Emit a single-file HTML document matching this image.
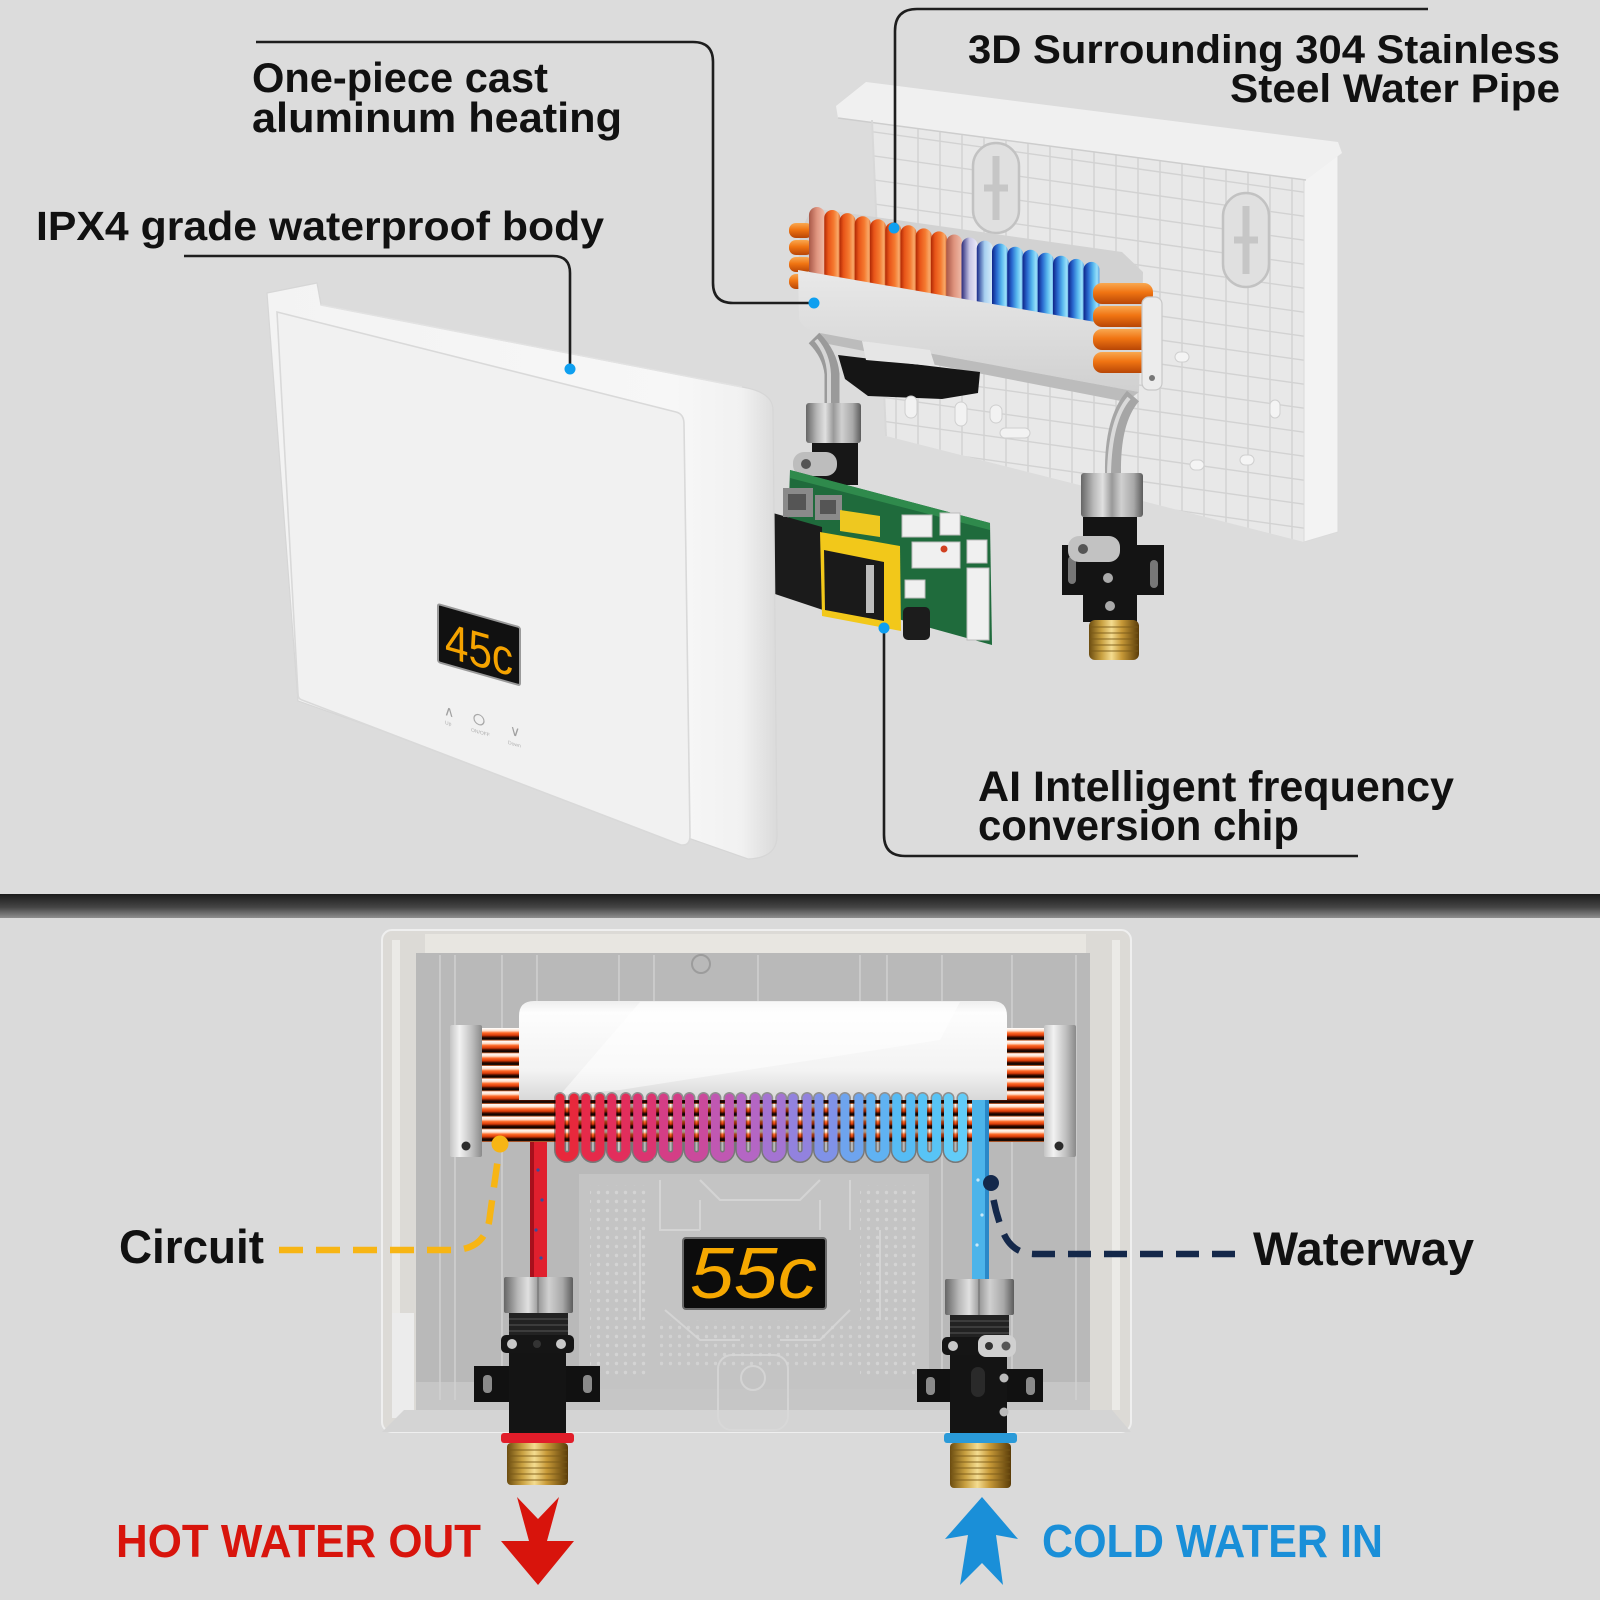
<!DOCTYPE html>
<html><head><meta charset="utf-8"><title>Water heater features</title>
<style>
html,body{margin:0;padding:0;width:1600px;height:1600px;overflow:hidden;background:#dcdcdc}
svg{display:block}
.t{font-family:"Liberation Sans",sans-serif;font-weight:bold}
</style></head><body>
<svg xmlns="http://www.w3.org/2000/svg" width="1600" height="1600" viewBox="0 0 1600 1600">
<defs>
 <linearGradient id="band" x1="0" y1="0" x2="0" y2="1">
  <stop offset="0" stop-color="#1c1c1c"/><stop offset="0.55" stop-color="#454545"/><stop offset="1" stop-color="#8e8e8e"/>
 </linearGradient>
 <linearGradient id="ps" x1="0" y1="0" x2="0" y2="1">
  <stop offset="0" stop-color="#ffffff"/><stop offset="0.22" stop-color="#ffe0cc"/>
  <stop offset="0.38" stop-color="#ff6a28"/><stop offset="0.58" stop-color="#d83a08"/>
  <stop offset="0.72" stop-color="#3a0c00"/><stop offset="0.88" stop-color="#000000"/>
  <stop offset="1" stop-color="#ff8040"/>
 </linearGradient>
 <pattern id="pipes" patternUnits="userSpaceOnUse" x="0" y="1028" width="10" height="12.67">
  <rect width="10" height="12.67" fill="url(#ps)"/>
 </pattern>
 <linearGradient id="cov" x1="0" y1="0" x2="0" y2="1">
  <stop offset="0" stop-color="#eeeeee"/><stop offset="0.12" stop-color="#fdfdfd"/>
  <stop offset="0.7" stop-color="#f3f3f3"/><stop offset="1" stop-color="#d8d8d8"/>
 </linearGradient>
 <linearGradient id="brk" x1="0" y1="0" x2="1" y2="0">
  <stop offset="0" stop-color="#c4c4c4"/><stop offset="0.3" stop-color="#f2f2f2"/>
  <stop offset="0.7" stop-color="#bdbdbd"/><stop offset="1" stop-color="#8a8a8a"/>
 </linearGradient>
 <linearGradient id="nutH" x1="0" y1="0" x2="1" y2="0">
  <stop offset="0" stop-color="#666"/><stop offset="0.2" stop-color="#b8b8b8"/>
  <stop offset="0.35" stop-color="#e0e0e0"/><stop offset="0.5" stop-color="#999"/>
  <stop offset="0.65" stop-color="#d0d0d0"/><stop offset="0.85" stop-color="#a8a8a8"/>
  <stop offset="1" stop-color="#5c5c5c"/>
 </linearGradient>
 <linearGradient id="brass" x1="0" y1="0" x2="1" y2="0">
  <stop offset="0" stop-color="#6b4c10"/><stop offset="0.25" stop-color="#c8a040"/>
  <stop offset="0.45" stop-color="#f4dc90"/><stop offset="0.65" stop-color="#c89a38"/>
  <stop offset="1" stop-color="#5a3c08"/>
 </linearGradient>
 <linearGradient id="fo" x1="0" y1="0" x2="1" y2="0">
  <stop offset="0" stop-color="#b02a06"/><stop offset="0.25" stop-color="#e85418"/>
  <stop offset="0.6" stop-color="#f57a30"/><stop offset="0.85" stop-color="#f8a868"/>
  <stop offset="1" stop-color="#e06a30"/>
 </linearGradient>
 <linearGradient id="fb" x1="0" y1="0" x2="1" y2="0">
  <stop offset="0" stop-color="#0e2488"/><stop offset="0.3" stop-color="#2a6ad0"/>
  <stop offset="0.6" stop-color="#58b8ee"/><stop offset="0.85" stop-color="#9ae0fa"/>
  <stop offset="1" stop-color="#5aa0e0"/>
 </linearGradient>
 <linearGradient id="fp" x1="0" y1="0" x2="1" y2="0">
  <stop offset="0" stop-color="#a85848"/><stop offset="0.5" stop-color="#e0957f"/><stop offset="1" stop-color="#f0bcaa"/>
 </linearGradient>
 <linearGradient id="fl" x1="0" y1="0" x2="1" y2="0">
  <stop offset="0" stop-color="#2a2a7a"/><stop offset="0.5" stop-color="#c8c6e6"/><stop offset="1" stop-color="#eceaf8"/>
 </linearGradient>
 <linearGradient id="fc" x1="0" y1="0" x2="1" y2="0">
  <stop offset="0" stop-color="#1a2a8a"/><stop offset="0.5" stop-color="#a8d0f0"/><stop offset="1" stop-color="#d8ecfa"/>
 </linearGradient>
 <linearGradient id="tube" x1="0" y1="0" x2="0" y2="1">
  <stop offset="0" stop-color="#f9a850"/><stop offset="0.45" stop-color="#f07412"/><stop offset="1" stop-color="#b84606"/>
 </linearGradient>
 <linearGradient id="bar" x1="0" y1="0" x2="0" y2="1">
  <stop offset="0" stop-color="#e9e9e9"/><stop offset="1" stop-color="#d0d0d0"/>
 </linearGradient>
 <linearGradient id="panelG" x1="0" y1="0" x2="1" y2="0">
  <stop offset="0" stop-color="#f3f3f3"/><stop offset="0.8" stop-color="#f7f7f7"/>
  <stop offset="0.93" stop-color="#f1f1f1"/><stop offset="1" stop-color="#dadada"/>
 </linearGradient>
 <pattern id="dots" patternUnits="userSpaceOnUse" width="9" height="9">
  <circle cx="4.5" cy="4.5" r="1.7" fill="#d8d8d8"/>
 </pattern>
 <clipPath id="plateClip"><polygon points="872,118 1304,178 1304,542 886,436"/></clipPath>
</defs>

<!-- backgrounds -->
<rect width="1600" height="1600" fill="#dcdcdc"/>
<rect y="918" width="1600" height="682" fill="#dadada"/>
<rect y="894" width="1600" height="24" fill="url(#band)"/>

<!-- ================= TOP: BACK PLATE ================= -->
<polygon points="872,118 1304,178 1304,542 886,436" fill="#e8e8e8"/>
<g clip-path="url(#plateClip)" stroke="#d2d2d2" stroke-width="1.4">
 <line x1="896" y1="100" x2="896" y2="560"/><line x1="918" y1="100" x2="918" y2="560"/>
 <line x1="940" y1="100" x2="940" y2="560"/><line x1="962" y1="100" x2="962" y2="560"/>
 <line x1="984" y1="100" x2="984" y2="560"/><line x1="1006" y1="100" x2="1006" y2="560"/>
 <line x1="1028" y1="100" x2="1028" y2="560"/><line x1="1050" y1="100" x2="1050" y2="560"/>
 <line x1="1072" y1="100" x2="1072" y2="560"/><line x1="1094" y1="100" x2="1094" y2="560"/>
 <line x1="1116" y1="100" x2="1116" y2="560"/><line x1="1138" y1="100" x2="1138" y2="560"/>
 <line x1="1160" y1="100" x2="1160" y2="560"/><line x1="1182" y1="100" x2="1182" y2="560"/>
 <line x1="1204" y1="100" x2="1204" y2="560"/><line x1="1226" y1="100" x2="1226" y2="560"/>
 <line x1="1248" y1="100" x2="1248" y2="560"/><line x1="1270" y1="100" x2="1270" y2="560"/>
 <line x1="1292" y1="100" x2="1292" y2="560"/>
 <line x1="860" y1="130" x2="1310" y2="193"/><line x1="860" y1="154" x2="1310" y2="217"/>
 <line x1="860" y1="178" x2="1310" y2="241"/><line x1="860" y1="202" x2="1310" y2="265"/>
 <line x1="860" y1="226" x2="1310" y2="289"/><line x1="860" y1="250" x2="1310" y2="313"/>
 <line x1="860" y1="274" x2="1310" y2="337"/><line x1="860" y1="298" x2="1310" y2="361"/>
 <line x1="860" y1="322" x2="1310" y2="385"/><line x1="860" y1="346" x2="1310" y2="409"/>
 <line x1="860" y1="370" x2="1310" y2="433"/><line x1="860" y1="394" x2="1310" y2="457"/>
 <line x1="860" y1="418" x2="1310" y2="481"/><line x1="860" y1="442" x2="1310" y2="505"/>
 <line x1="860" y1="466" x2="1310" y2="529"/>
</g>
<rect x="973" y="143" width="46" height="90" rx="23" fill="#e0e0e0" stroke="#c2c2c2" stroke-width="2.5"/>
<path d="M996,156 L996,220 M984,188 L1008,188" stroke="#c6c6c6" stroke-width="7"/>
<rect x="1223" y="193" width="46" height="94" rx="23" fill="#e0e0e0" stroke="#c2c2c2" stroke-width="2.5"/>
<path d="M1246,206 L1246,274 M1234,240 L1258,240" stroke="#c6c6c6" stroke-width="7"/>
<g fill="#f4f4f4" stroke="#cfcfcf" stroke-width="1">
 <rect x="1175" y="352" width="14" height="10" rx="5"/><rect x="1240" y="455" width="14" height="10" rx="5"/>
 <rect x="1190" y="460" width="14" height="10" rx="5"/><rect x="1270" y="400" width="10" height="18" rx="5"/>
</g>
<polygon points="1304,178 1338,152 1338,532 1304,542" fill="#f3f3f3" stroke="#dadada" stroke-width="1"/>
<polygon points="836,106 866,82 1338,142 1342,153 1306,180 838,118" fill="#f0f0f0"/>
<line x1="838" y1="118" x2="1306" y2="180" stroke="#cdcdcd" stroke-width="1.5"/>
<line x1="872" y1="120" x2="886" y2="436" stroke="#d8d8d8" stroke-width="2"/>

<!-- ================= TOP: HEATER ================= -->
<polygon points="812,208 1122,252 1143,272 1142,332 798,270 800,232" fill="#d2d2d2"/>
<!-- left orange stubs -->
<g fill="url(#tube)">
 <rect x="789" y="223" width="24" height="15" rx="7"/><rect x="789" y="240" width="24" height="15" rx="7"/>
 <rect x="789" y="257" width="24" height="15" rx="7"/><rect x="789" y="274" width="24" height="15" rx="7"/>
</g>
<!-- fins -->
<g>
 <rect x="809" y="207" width="16" height="80" rx="8" fill="url(#fp)"/>
 <rect x="824.25" y="210" width="16" height="80" rx="8" fill="url(#fo)"/>
 <rect x="839.5" y="213.1" width="16" height="80" rx="8" fill="url(#fo)"/>
 <rect x="854.75" y="216.2" width="16" height="80" rx="8" fill="url(#fo)"/>
 <rect x="870" y="219.2" width="16" height="80" rx="8" fill="url(#fo)"/>
 <rect x="885.25" y="222.3" width="16" height="80" rx="8" fill="url(#fo)"/>
 <rect x="900.5" y="225.3" width="16" height="80" rx="8" fill="url(#fo)"/>
 <rect x="915.75" y="228.4" width="16" height="80" rx="8" fill="url(#fo)"/>
 <rect x="931" y="231.4" width="16" height="80" rx="8" fill="url(#fo)"/>
 <rect x="946.25" y="234.5" width="16" height="80" rx="8" fill="url(#fp)"/>
 <rect x="961.5" y="237.5" width="16" height="80" rx="8" fill="url(#fl)"/>
 <rect x="976.75" y="240.6" width="16" height="80" rx="8" fill="url(#fc)"/>
 <rect x="992" y="243.6" width="16" height="80" rx="8" fill="url(#fb)"/>
 <rect x="1007.25" y="246.7" width="16" height="80" rx="8" fill="url(#fb)"/>
 <rect x="1022.5" y="249.7" width="16" height="80" rx="8" fill="url(#fb)"/>
 <rect x="1037.75" y="252.8" width="16" height="80" rx="8" fill="url(#fb)"/>
 <rect x="1053" y="255.8" width="16" height="80" rx="8" fill="url(#fb)"/>
 <rect x="1068.25" y="258.9" width="16" height="80" rx="8" fill="url(#fb)"/>
 <rect x="1083.5" y="261.9" width="16" height="80" rx="8" fill="url(#fb)"/>
</g>
<!-- bar front -->
<path d="M798,270 L1141,330 L1139,392 L820,333 Q801,329 799,318 Z" fill="url(#bar)"/>
<polygon points="820,333 1139,392 1126,402 823,343" fill="#bcbcbc"/>
<!-- right tubes -->
<g>
 <rect x="1093" y="283" width="60" height="21" rx="9" fill="url(#tube)"/>
 <rect x="1093" y="306" width="60" height="21" rx="9" fill="url(#tube)"/>
 <rect x="1093" y="329" width="60" height="21" rx="9" fill="url(#tube)"/>
 <rect x="1093" y="352" width="60" height="21" rx="9" fill="url(#tube)"/>
</g>
<rect x="1142" y="297" width="20" height="93" rx="7" fill="#ececec" stroke="#c8c8c8" stroke-width="1.2"/>
<circle cx="1152" cy="378" r="3" fill="#777"/>
<!-- relay -->
<polygon points="838,355 980,372 978,393 942,399 868,396 845,379" fill="#151515"/>
<polygon points="862,341 930,350 935,366 866,360" fill="#e6e6e6"/>
<g fill="#f2f2f2" stroke="#cfcfcf" stroke-width="1">
 <rect x="905" y="396" width="12" height="22" rx="6"/><rect x="955" y="402" width="12" height="24" rx="6"/>
 <rect x="990" y="405" width="12" height="18" rx="6"/><rect x="1000" y="428" width="30" height="10" rx="5"/>
</g>
<!-- left steel pipe, nut, hose -->
<path d="M814,338 Q830,354 832,374 L832,406" fill="none" stroke="#9a9a9a" stroke-width="15"/>
<path d="M816,340 Q828,354 829,374 L829,404" fill="none" stroke="#d6d6d6" stroke-width="4"/>
<rect x="806" y="403" width="55" height="40" rx="3" fill="url(#nutH)"/>
<rect x="812" y="443" width="46" height="42" fill="#171717"/>
<rect x="793" y="452" width="44" height="24" rx="11" fill="#bdbdbd"/>
<circle cx="806" cy="464" r="5" fill="#555"/>

<!-- PCB -->
<polygon points="790,470 990,523 992,645 786,588" fill="#1f6b3c"/>
<polygon points="790,470 990,523 990,530 790,478" fill="#2f8a4c"/>
<polygon points="773,513 822,527 823,610 775,594" fill="#1b1b1b"/>
<rect x="783" y="488" width="30" height="29" fill="#8a8a8a"/><rect x="788" y="494" width="18" height="16" fill="#555"/>
<rect x="815" y="495" width="27" height="25" fill="#8a8a8a"/><rect x="820" y="500" width="16" height="14" fill="#555"/>
<polygon points="840,510 880,516 880,537 840,531" fill="#eec820"/>
<polygon points="820,532 900,546 901,631 822,616" fill="#f2c81a"/>
<polygon points="824,550 884,562 884,621 825,610" fill="#1a1a1a"/>
<rect x="866" y="565" width="8" height="48" fill="#bdbdbd"/>
<g fill="#f0f0f0" stroke="#bdbdbd" stroke-width="1">
 <rect x="902" y="515" width="30" height="22"/><rect x="940" y="513" width="20" height="22"/>
 <rect x="912" y="542" width="48" height="26"/><rect x="967" y="540" width="20" height="23"/>
 <rect x="967" y="568" width="22" height="72"/><rect x="905" y="580" width="20" height="18"/>
</g>
<rect x="903" y="607" width="27" height="33" rx="5" fill="#1c1c1c"/>
<circle cx="944" cy="549" r="3.5" fill="#d04020"/>

<!-- right steel pipe & fitting -->
<path d="M1133,396 Q1112,420 1113,474" fill="none" stroke="#a6a6a6" stroke-width="16"/>
<path d="M1129,398 Q1110,420 1109,474" fill="none" stroke="#dadada" stroke-width="4"/>
<rect x="1081" y="473" width="62" height="44" rx="3" fill="url(#nutH)"/>
<rect x="1083" y="517" width="54" height="105" fill="#141414"/>
<rect x="1062" y="545" width="102" height="50" fill="#141414"/>
<rect x="1068" y="556" width="8" height="28" rx="4" fill="#777"/>
<rect x="1150" y="560" width="8" height="28" rx="4" fill="#777"/>
<rect x="1068" y="536" width="52" height="26" rx="11" fill="#c2c2c2"/>
<circle cx="1083" cy="549" r="5" fill="#555"/>
<circle cx="1108" cy="578" r="5" fill="#aaa"/><circle cx="1110" cy="606" r="5" fill="#aaa"/>
<rect x="1089" y="620" width="50" height="40" rx="6" fill="url(#brass)"/>
<g stroke="#7a5a18" stroke-width="1.3" opacity="0.7">
 <line x1="1090" y1="627" x2="1138" y2="627"/><line x1="1090" y1="633" x2="1138" y2="633"/>
 <line x1="1090" y1="639" x2="1138" y2="639"/><line x1="1090" y1="645" x2="1138" y2="645"/>
 <line x1="1090" y1="651" x2="1138" y2="651"/>
</g>

<!-- ================= TOP: FRONT PANEL ================= -->
<path d="M267,293 L317,283 L321,305 L742,387 Q773,392 773,410 L777,836 Q777,858 748,859 L298,701 Z" fill="url(#panelG)" stroke="#d6d6d6" stroke-width="1.2"/>
<path d="M277,312 L676,412 Q684,414 684,424 L690,836 Q690,846 681,845 L302,700 Q298,699 298,694 Z" fill="#f1f1f1" stroke="#d9d9d9" stroke-width="1.6"/>
<line x1="321" y1="305" x2="742" y2="387" stroke="#e2e2e2" stroke-width="1.5"/>
<g transform="translate(438,604) skewY(15.9)">
 <rect x="0" y="0" width="82" height="58" rx="2" fill="#111" stroke="#9a9a9a" stroke-width="2"/>
 <text class="t" x="7" y="51" font-size="50" fill="#f5a300" textLength="68" lengthAdjust="spacingAndGlyphs" style="font-weight:normal">45c</text>
 <text class="t" x="6" y="109" font-size="14" fill="#a0a0a0" style="font-weight:normal">∧</text>
 <circle cx="41" cy="104" r="5" fill="none" stroke="#a8a8a8" stroke-width="1.2"/>
 <text class="t" x="72" y="110" font-size="14" fill="#a0a0a0" style="font-weight:normal">∨</text>
 <text class="t" x="7" y="118" font-size="5" fill="#b0b0b0" style="font-weight:normal">Up</text>
 <text class="t" x="33" y="118" font-size="5" fill="#b0b0b0" style="font-weight:normal">ON/OFF</text>
 <text class="t" x="70" y="120" font-size="5" fill="#b0b0b0" style="font-weight:normal">Down</text>
</g>

<!-- ================= TOP: CALLOUTS ================= -->
<g fill="none" stroke="#1e1e1e" stroke-width="2.6">
 <path d="M256,42 L693,42 Q713,42 713,62 L713,283 Q713,303 733,303 L814,303"/>
 <path d="M184,256 L553,256 Q570,256 570,273 L570,369"/>
 <path d="M1428,9 L917,9 Q895,9 895,31 L895,228"/>
 <path d="M884,628 L884,835 Q884,856 905,856 L1358,856"/>
</g>
<g fill="#0e9ff0">
 <circle cx="814" cy="303" r="5.5"/><circle cx="570" cy="369" r="5.5"/>
 <circle cx="894" cy="228" r="5.5"/><circle cx="884" cy="628" r="5.5"/>
</g>
<g class="t" fill="#111">
 <text x="252" y="92" font-size="42" textLength="296" lengthAdjust="spacingAndGlyphs">One-piece cast</text>
 <text x="252" y="132" font-size="42" textLength="370" lengthAdjust="spacingAndGlyphs">aluminum heating</text>
 <text x="36" y="240" font-size="41" textLength="568" lengthAdjust="spacingAndGlyphs">IPX4 grade waterproof body</text>
 <text x="968" y="63" font-size="40" textLength="592" lengthAdjust="spacingAndGlyphs">3D Surrounding 304 Stainless</text>
 <text x="1230" y="102" font-size="40" textLength="330" lengthAdjust="spacingAndGlyphs">Steel Water Pipe</text>
 <text x="978" y="801" font-size="43" textLength="476" lengthAdjust="spacingAndGlyphs">AI Intelligent frequency</text>
 <text x="978" y="840" font-size="43" textLength="321" lengthAdjust="spacingAndGlyphs">conversion chip</text>
</g>

<!-- ================= BOTTOM: HOUSING ================= -->
<rect x="382" y="930" width="749" height="502" rx="10" fill="#dcdad6" stroke="#efefef" stroke-width="2"/>
<rect x="416" y="953" width="674" height="457" fill="#b9b9b9"/>
<rect x="425" y="934" width="661" height="19" fill="#e8e6e1"/>
<rect x="392" y="940" width="8" height="470" fill="#ebeae7"/>
<rect x="1112" y="940" width="8" height="470" fill="#ebeae7"/>
<rect x="392" y="1313" width="22" height="105" fill="#ececec"/>
<polygon points="382,1432 1131,1432 1112,1410 404,1410" fill="#d4d4d4"/>
<rect x="416" y="1382" width="674" height="28" fill="#c6c6c6"/>
<g stroke="#d2d2d2" stroke-width="1.8" opacity="0.8">
 <line x1="440" y1="955" x2="440" y2="1400"/><line x1="455" y1="955" x2="455" y2="1400"/>
 <line x1="502" y1="955" x2="502" y2="1400"/><line x1="537" y1="955" x2="537" y2="1400"/>
 <line x1="619" y1="955" x2="619" y2="1160"/><line x1="654" y1="955" x2="654" y2="1160"/>
 <line x1="758" y1="955" x2="758" y2="1160"/><line x1="860" y1="955" x2="860" y2="1160"/>
 <line x1="887" y1="955" x2="887" y2="1160"/><line x1="942" y1="955" x2="942" y2="1400"/>
 <line x1="1012" y1="955" x2="1012" y2="1400"/><line x1="1076" y1="955" x2="1076" y2="1400"/>
</g>
<circle cx="701" cy="964" r="9" fill="none" stroke="#9c9c9c" stroke-width="2"/>
<!-- pcb ghost -->
<rect x="579" y="1174" width="350" height="215" fill="#c4c4c4"/>
<rect x="590" y="1185" width="60" height="190" fill="url(#dots)" opacity="0.8"/>
<rect x="860" y="1185" width="60" height="190" fill="url(#dots)" opacity="0.8"/>
<rect x="660" y="1320" width="200" height="50" fill="url(#dots)" opacity="0.7"/>
<g fill="none" stroke="#d8d8d8" stroke-width="2" opacity="0.8">
 <path d="M660,1180 L660,1230 L700,1230 M700,1180 L720,1200 L800,1200 L820,1180 M850,1180 L850,1230 M665,1310 L700,1340 L740,1340 M780,1340 L820,1340 L850,1310"/>
 <path d="M640,1230 L640,1320 M880,1230 L880,1320 M700,1200 L700,1230 M820,1200 L820,1230"/>
 <rect x="718" y="1355" width="70" height="75" rx="14"/>
 <circle cx="753" cy="1378" r="12"/>
</g>

<!-- pipes and cover -->
<rect x="482" y="1028" width="562" height="114" fill="url(#pipes)"/>
<path d="M519,1100 L519,1016 Q519,1001 534,1001 L992,1001 Q1007,1001 1007,1016 L1007,1100 Z" fill="url(#cov)"/>
<polygon points="640,1002 960,1002 940,1040 620,1090 560,1095" fill="#ffffff" opacity="0.5"/>
<rect x="450" y="1025" width="32" height="132" rx="2" fill="url(#brk)"/>
<circle cx="466" cy="1146" r="4.5" fill="#2a2a2a"/>
<rect x="1044" y="1025" width="32" height="132" rx="2" fill="url(#brk)"/>
<circle cx="1059" cy="1146" r="4.5" fill="#2a2a2a"/>

<!-- coil loops -->
<g fill="none" stroke-linecap="round">
 <g stroke="rgba(0,0,0,0.35)" stroke-width="12">
  <path d="M560,1098 L560,1150 A7,7 0 0 0 574,1150 L574,1098"/>
  <path d="M585.9,1098 L585.9,1150 A7,7 0 0 0 599.9,1150 L599.9,1098"/>
  <path d="M611.8,1098 L611.8,1150 A7,7 0 0 0 625.8,1150 L625.8,1098"/>
  <path d="M637.7,1098 L637.7,1150 A7,7 0 0 0 651.7,1150 L651.7,1098"/>
  <path d="M663.6,1098 L663.6,1150 A7,7 0 0 0 677.6,1150 L677.6,1098"/>
  <path d="M689.5,1098 L689.5,1150 A7,7 0 0 0 703.5,1150 L703.5,1098"/>
  <path d="M715.4,1098 L715.4,1150 A7,7 0 0 0 729.4,1150 L729.4,1098"/>
  <path d="M741.3,1098 L741.3,1150 A7,7 0 0 0 755.3,1150 L755.3,1098"/>
  <path d="M767.2,1098 L767.2,1150 A7,7 0 0 0 781.2,1150 L781.2,1098"/>
  <path d="M793.1,1098 L793.1,1150 A7,7 0 0 0 807.1,1150 L807.1,1098"/>
  <path d="M819,1098 L819,1150 A7,7 0 0 0 833,1150 L833,1098"/>
  <path d="M844.9,1098 L844.9,1150 A7,7 0 0 0 858.9,1150 L858.9,1098"/>
  <path d="M870.8,1098 L870.8,1150 A7,7 0 0 0 884.8,1150 L884.8,1098"/>
  <path d="M896.7,1098 L896.7,1150 A7,7 0 0 0 910.7,1150 L910.7,1098"/>
  <path d="M922.6,1098 L922.6,1150 A7,7 0 0 0 936.6,1150 L936.6,1098"/>
  <path d="M948.5,1098 L948.5,1150 A7,7 0 0 0 962.5,1150 L962.5,1098"/>
 </g>
 <g stroke-width="9">
  <path stroke="#e8283c" d="M560,1098 L560,1150 A7,7 0 0 0 574,1150 L574,1098"/>
  <path stroke="#e62a4a" d="M585.9,1098 L585.9,1150 A7,7 0 0 0 599.9,1150 L599.9,1098"/>
  <path stroke="#e22e5c" d="M611.8,1098 L611.8,1150 A7,7 0 0 0 625.8,1150 L625.8,1098"/>
  <path stroke="#dc3470" d="M637.7,1098 L637.7,1150 A7,7 0 0 0 651.7,1150 L651.7,1098"/>
  <path stroke="#d43e86" d="M663.6,1098 L663.6,1150 A7,7 0 0 0 677.6,1150 L677.6,1098"/>
  <path stroke="#ca4a9c" d="M689.5,1098 L689.5,1150 A7,7 0 0 0 703.5,1150 L703.5,1098"/>
  <path stroke="#c058b2" d="M715.4,1098 L715.4,1150 A7,7 0 0 0 729.4,1150 L729.4,1098"/>
  <path stroke="#b466c4" d="M741.3,1098 L741.3,1150 A7,7 0 0 0 755.3,1150 L755.3,1098"/>
  <path stroke="#a474d2" d="M767.2,1098 L767.2,1150 A7,7 0 0 0 781.2,1150 L781.2,1098"/>
  <path stroke="#9282de" d="M793.1,1098 L793.1,1150 A7,7 0 0 0 807.1,1150 L807.1,1098"/>
  <path stroke="#8092e8" d="M819,1098 L819,1150 A7,7 0 0 0 833,1150 L833,1098"/>
  <path stroke="#6ea4ee" d="M844.9,1098 L844.9,1150 A7,7 0 0 0 858.9,1150 L858.9,1098"/>
  <path stroke="#60b2f2" d="M870.8,1098 L870.8,1150 A7,7 0 0 0 884.8,1150 L884.8,1098"/>
  <path stroke="#56bcf4" d="M896.7,1098 L896.7,1150 A7,7 0 0 0 910.7,1150 L910.7,1098"/>
  <path stroke="#58c4f6" d="M922.6,1098 L922.6,1150 A7,7 0 0 0 936.6,1150 L936.6,1098"/>
  <path stroke="#62ccf8" d="M948.5,1098 L948.5,1150 A7,7 0 0 0 962.5,1150 L962.5,1098"/>
 </g>
</g>
<!-- vertical pipes -->
<rect x="530" y="1142" width="17" height="136" fill="#e0202e"/>
<rect x="530" y="1142" width="4" height="136" fill="#a8101c"/>
<g fill="#3050a0"><circle cx="538" cy="1170" r="1.6"/><circle cx="542" cy="1200" r="1.6"/><circle cx="536" cy="1230" r="1.6"/><circle cx="541" cy="1258" r="1.6"/></g>
<rect x="972" y="1100" width="17" height="180" fill="#4cb4ea"/>
<rect x="985" y="1100" width="4" height="180" fill="#2a88c8"/>
<g fill="#ffffff" opacity="0.7"><circle cx="978" cy="1180" r="1.6"/><circle cx="982" cy="1215" r="1.6"/><circle cx="977" cy="1245" r="1.6"/></g>

<!-- left fitting -->
<g>
 <rect x="504" y="1277" width="69" height="36" rx="2" fill="url(#nutH)"/>
 <line x1="538" y1="1277" x2="538" y2="1313" stroke="#7a7a7a" stroke-width="1.5"/>
 <rect x="509" y="1313" width="59" height="23" fill="#222"/>
 <g stroke="#444" stroke-width="1.5"><line x1="509" y1="1319" x2="568" y2="1319"/><line x1="509" y1="1325" x2="568" y2="1325"/><line x1="509" y1="1331" x2="568" y2="1331"/></g>
 <rect x="474" y="1366" width="126" height="36" fill="#111"/>
 <rect x="483" y="1375" width="9" height="18" rx="4" fill="#8a8a8a"/>
 <rect x="583" y="1375" width="9" height="18" rx="4" fill="#8a8a8a"/>
 <rect x="509" y="1352" width="57" height="82" fill="#141414"/>
 <rect x="501" y="1335" width="73" height="18" rx="5" fill="#151515"/>
 <circle cx="512" cy="1344" r="5" fill="#c8c8c8"/><circle cx="561" cy="1344" r="5" fill="#c8c8c8"/>
 <circle cx="537" cy="1344" r="4" fill="#333"/>
 <rect x="501" y="1433" width="73" height="10" rx="3" fill="#e11d2a"/>
 <rect x="507" y="1443" width="61" height="42" rx="4" fill="url(#brass)"/>
 <g stroke="#7a5a18" stroke-width="1.3" opacity="0.7">
  <line x1="508" y1="1450" x2="567" y2="1450"/><line x1="508" y1="1456" x2="567" y2="1456"/>
  <line x1="508" y1="1462" x2="567" y2="1462"/><line x1="508" y1="1468" x2="567" y2="1468"/>
  <line x1="508" y1="1474" x2="567" y2="1474"/><line x1="508" y1="1480" x2="567" y2="1480"/>
 </g>
</g>
<!-- right fitting -->
<g transform="translate(441,2)">
 <rect x="504" y="1277" width="69" height="36" rx="2" fill="url(#nutH)"/>
 <line x1="538" y1="1277" x2="538" y2="1313" stroke="#7a7a7a" stroke-width="1.5"/>
 <rect x="509" y="1313" width="59" height="23" fill="#222"/>
 <g stroke="#444" stroke-width="1.5"><line x1="509" y1="1319" x2="568" y2="1319"/><line x1="509" y1="1325" x2="568" y2="1325"/><line x1="509" y1="1331" x2="568" y2="1331"/></g>
 <rect x="476" y="1367" width="126" height="33" fill="#111"/>
 <rect x="485" y="1375" width="9" height="18" rx="4" fill="#8a8a8a"/>
 <rect x="585" y="1375" width="9" height="18" rx="4" fill="#8a8a8a"/>
 <rect x="509" y="1352" width="57" height="80" fill="#141414"/>
 <rect x="530" y="1365" width="14" height="30" rx="7" fill="#2a2a2a"/>
 <rect x="501" y="1335" width="73" height="18" rx="5" fill="#151515"/>
 <rect x="537" y="1333" width="38" height="22" rx="8" fill="#d0d0d0"/>
 <circle cx="512" cy="1344" r="5" fill="#c8c8c8"/><circle cx="565" cy="1344" r="4.5" fill="#555"/>
 <circle cx="548" cy="1344" r="4" fill="#333"/>
 <circle cx="563" cy="1376" r="4.5" fill="#bbb"/><circle cx="563" cy="1410" r="4.5" fill="#bbb"/>
 <rect x="503" y="1431" width="73" height="10" rx="3" fill="#2a9ad8"/>
 <rect x="509" y="1441" width="61" height="45" rx="4" fill="url(#brass)"/>
 <g stroke="#7a5a18" stroke-width="1.3" opacity="0.7">
  <line x1="510" y1="1448" x2="569" y2="1448"/><line x1="510" y1="1454" x2="569" y2="1454"/>
  <line x1="510" y1="1460" x2="569" y2="1460"/><line x1="510" y1="1466" x2="569" y2="1466"/>
  <line x1="510" y1="1472" x2="569" y2="1472"/><line x1="510" y1="1478" x2="569" y2="1478"/>
 </g>
</g>

<!-- display 55c -->
<rect x="683" y="1238" width="143" height="71" rx="3" fill="#0c0c0c" stroke="#6a6a6a" stroke-width="2"/>
<text class="t" x="690" y="1298" font-size="72" fill="#f6a800" textLength="127" lengthAdjust="spacingAndGlyphs" style="font-weight:normal;font-style:italic">55c</text>

<!-- dashed connectors -->
<path d="M279,1250 L452,1250 Q487,1250 490,1215 L500,1144" fill="none" stroke="#f7b514" stroke-width="6.5" stroke-dasharray="24 13"/>
<circle cx="500" cy="1144" r="8.5" fill="#f7b514"/>
<path d="M1235,1254 L1035,1254 Q1012,1254 1003,1232 Q994,1210 991,1183" fill="none" stroke="#14284a" stroke-width="6.5" stroke-dasharray="23 13"/>
<circle cx="991" cy="1183" r="8" fill="#14284a"/>

<!-- bottom labels -->
<g class="t">
 <text x="119" y="1263" font-size="47" fill="#111" textLength="145" lengthAdjust="spacingAndGlyphs">Circuit</text>
 <text x="1253" y="1265" font-size="47" fill="#111" textLength="221" lengthAdjust="spacingAndGlyphs">Waterway</text>
 <text x="116" y="1557" font-size="46" fill="#d8140c" textLength="365" lengthAdjust="spacingAndGlyphs">HOT WATER OUT</text>
 <text x="1042" y="1557" font-size="46" fill="#1a8fd8" textLength="341" lengthAdjust="spacingAndGlyphs">COLD WATER IN</text>
</g>

<!-- arrows -->
<polygon points="517,1497 538,1519 559,1497 547,1541 574,1541 538,1585 501,1541 529,1541" fill="#d8140c"/>
<polygon points="982,1497 1018,1539 996,1535 1003,1585 982,1563 960,1585 968,1535 945,1539" fill="#1a8fd8"/>
</svg>
</body></html>
